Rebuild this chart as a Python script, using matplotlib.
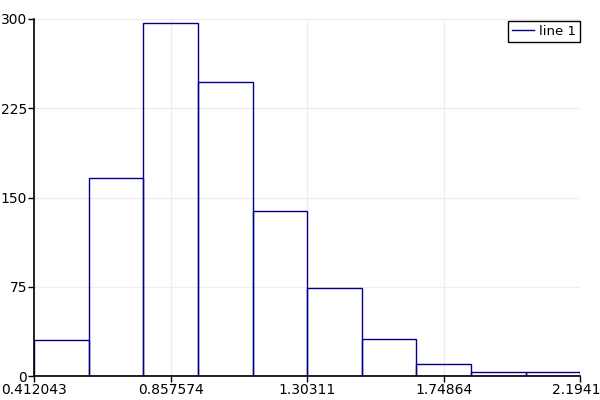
import numpy as np
import matplotlib.pyplot as plt
from matplotlib.lines import Line2D

# histogram of 10 bins between these limits
x_min = 0.412043
x_max = 2.19417
counts = [30, 166, 297, 247, 139, 74, 31, 10, 3, 3]
x_ticks = [0.412043, 0.857574, 1.30311, 1.74864, 2.19417]
x_tick_labels = ['0.412043', '0.857574', '1.30311', '1.74864', '2.19417']
y_ticks = [0, 75, 150, 225, 300]

edges = np.linspace(x_min, x_max, len(counts) + 1)
widths = np.diff(edges)

fig = plt.figure(figsize=(6, 4), dpi=100)
ax = fig.add_axes([0.057, 0.06, 0.91, 0.8925])

ax.bar(edges[:-1], counts, width=widths, align='edge', facecolor='none',
       edgecolor='#00008b', linewidth=1.0, label='line 1', zorder=3)

ax.set_xlim(x_min, x_max)
ax.set_ylim(0, 300)
ax.set_xticks(x_ticks)
ax.set_xticklabels(x_tick_labels)
ax.set_yticks(y_ticks)
ax.grid(True, color='#ececec', linewidth=0.8, zorder=0)
ax.set_axisbelow(True)
for s in ['top', 'right']:
    ax.spines[s].set_visible(False)
for s in ['left', 'bottom']:
    ax.spines[s].set_linewidth(1.2)
    ax.spines[s].set_zorder(4)
ax.tick_params(direction='out', length=4, width=1, labelsize=10, pad=1)

handle = Line2D([], [], color='#00008b', linewidth=1.0)
leg = ax.legend([handle], ['line 1'], loc='upper right', fancybox=False,
                edgecolor='black', framealpha=1, fontsize=9.5,
                handlelength=1.7, borderpad=0.3, handletextpad=0.4,
                borderaxespad=0, bbox_to_anchor=(1.0, 0.995))
leg.get_frame().set_linewidth(1.0)

fig.savefig('out.png')
